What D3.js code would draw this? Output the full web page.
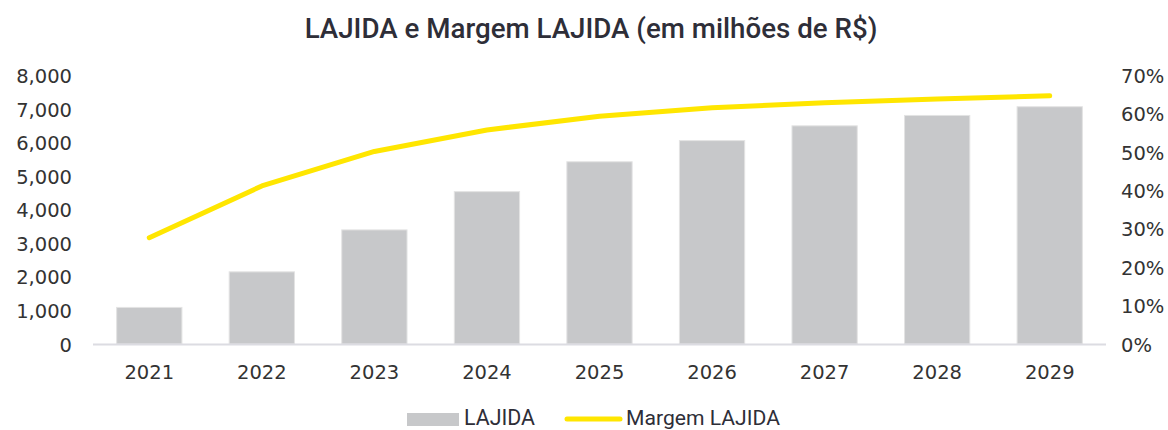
<!DOCTYPE html>
<html><head><meta charset="utf-8">
<script src="https://cdn.jsdelivr.net/npm/d3@7/dist/d3.min.js"></script>
<style>body{margin:0;background:#fff}svg{display:block}</style>
</head><body>
<svg id="c" width="1168" height="430"></svg>
<script>
const years = ["2021","2022","2023","2024","2025","2026","2027","2028","2029"];
const lajida = [1090, 2150, 3400, 4540, 5430, 6060, 6500, 6810, 7070];
const margem = [27.7, 41.2, 50.2, 55.8, 59.4, 61.6, 62.9, 63.9, 64.7];
const leftTicks = [0,1000,2000,3000,4000,5000,6000,7000,8000];
const rightTicks = [0,10,20,30,40,50,60,70];
const titleText = "LAJIDA e Margem LAJIDA (em milhões de R$)";
const legendLabels = ["LAJIDA","Margem LAJIDA"];

const svg = d3.select("#c");
const x0 = 93, x1 = 1106, yTop = 75.5, yBot = 344;
const tickFont = "'DejaVu Sans', Verdana, sans-serif";
const titleFont = "Roboto, 'Noto Sans', sans-serif";

const x = d3.scaleBand().domain(years).range([x0, x1]).paddingInner(0.42).paddingOuter(0.21);
const yL = d3.scaleLinear().domain([0, 8000]).range([yBot, yTop]);
const yR = d3.scaleLinear().domain([0, 70]).range([yBot, yTop]);

function fit(sel, target) {
  const w = sel.node().getComputedTextLength();
  const fs = parseFloat(sel.attr("font-size"));
  sel.attr("font-size", fs * target / w);
}

// title
const t = svg.append("text").attr("x", 591).attr("y", 38).attr("text-anchor","middle")
  .attr("font-family", titleFont).attr("font-weight", 500).attr("font-size", 22).attr("fill","#2e2e38").text(titleText);
fit(t, 573);

// bars
svg.append("g").selectAll("rect").data(years).join("rect")
  .attr("x", d => x(d)).attr("width", x.bandwidth())
  .attr("y", (d,i) => yL(lajida[i])).attr("height", (d,i) => yBot - yL(lajida[i]))
  .attr("fill", "#c7c8ca").attr("stroke", "#e3e3e3").attr("stroke-width", 1);

// x axis line
svg.append("line").attr("x1", x0).attr("x2", x1).attr("y1", yBot + 0.5).attr("y2", yBot + 0.5)
  .attr("stroke", "#dcdce2").attr("stroke-width", 2);

// left axis
const axL = d3.axisLeft(yL).tickValues(leftTicks).tickFormat(d3.format(",")).tickSize(0).tickPadding(0);
const gL = svg.append("g").attr("transform", "translate(72,0)").call(axL);
gL.select(".domain").remove();
gL.selectAll("text").attr("font-family", tickFont).attr("font-size", 19.5).attr("fill", "#333").attr("dy","0.36em");

// right axis
const axR = d3.axisRight(yR).tickValues(rightTicks).tickFormat(d => d + "%").tickSize(0).tickPadding(0);
const gR = svg.append("g").attr("transform", "translate(1121,0)").call(axR);
gR.select(".domain").remove();
gR.selectAll("text").attr("font-family", tickFont).attr("font-size", 19.5).attr("fill", "#333").attr("dy","0.36em");

// bottom axis
const axB = d3.axisBottom(x).tickSize(0).tickPadding(0);
const gB = svg.append("g").attr("transform", `translate(0,${yBot + 35})`).call(axB);
gB.select(".domain").remove();
gB.selectAll("text").attr("font-family", tickFont).attr("font-size", 19.5).attr("fill", "#333").attr("dy","0");

// line
const line = d3.line().x((d,i) => x(years[i]) + x.bandwidth()/2).y(d => yR(d));
svg.append("path").datum(margem).attr("d", line).attr("fill","none")
  .attr("stroke", "#ffe600").attr("stroke-width", 5).attr("stroke-linecap","round").attr("stroke-linejoin","round");

// legend
svg.append("rect").attr("x", 407).attr("y", 413).attr("width", 52).attr("height", 13).attr("fill", "#c7c8ca");
const l1 = svg.append("text").attr("x", 464).attr("y", 425).attr("font-family", titleFont).attr("font-size", 19)
  .attr("fill", "#2e2e38").text(legendLabels[0]);
fit(l1, 71);
svg.append("line").attr("x1", 567).attr("x2", 620).attr("y1", 419).attr("y2", 419)
  .attr("stroke", "#ffe600").attr("stroke-width", 5).attr("stroke-linecap","round");
const l2 = svg.append("text").attr("x", 626).attr("y", 425).attr("font-family", titleFont).attr("font-size", 19)
  .attr("fill", "#2e2e38").text(legendLabels[1]);
fit(l2, 154);
</script>
</body></html>
